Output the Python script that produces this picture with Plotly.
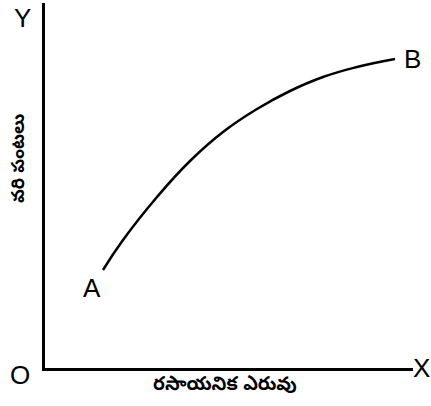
"""Recreates the fertilizer vs yield sketch: a concave curve from A to B between bare axes."""

import plotly.graph_objects as go

# ----- Data (axis units = pixels from origin O) -----
CURVE_X = [58, 78, 112, 145, 178, 212, 245, 278, 312, 350]
CURVE_Y = [98, 128, 171, 207, 236, 259, 277, 291, 301, 309]

X_LABEL = "రసాయనిక ఎరువు"
Y_LABEL = "వరి పంటలు"

FONT = "Liberation Sans, Arial, sans-serif"
TELUGU_FONT = "Noto Sans Telugu, Noto Sans, sans-serif"

fig = go.Figure(go.Scatter(
    x=CURVE_X, y=CURVE_Y, mode="lines",
    line=dict(color="black", width=2.5, shape="spline", smoothing=1.3),
    hoverinfo="skip",
))

# Axis letters sit outside the plot area -> paper coordinates
for txt, px, py in [("Y", -0.062, 0.96), ("O", -0.068, -0.02), ("X", 1.024, 0.0)]:
    fig.add_annotation(x=px, y=py, xref="paper", yref="paper", text=txt, showarrow=False,
                       xanchor="center", yanchor="middle",
                       font=dict(family=FONT, size=26, color="black"))

# Curve end letters
fig.add_annotation(x=CURVE_X[0] - 11, y=CURVE_Y[0] - 18, text="A", showarrow=False,
                   xanchor="center", yanchor="middle",
                   font=dict(family=FONT, size=26, color="black"))
fig.add_annotation(x=CURVE_X[-1] + 17, y=CURVE_Y[-1], text="B", showarrow=False,
                   xanchor="center", yanchor="middle",
                   font=dict(family=FONT, size=26, color="black"))

fig.add_annotation(x=0.489, y=-0.05, xref="paper", yref="paper",
                   xanchor="center", yanchor="middle",
                   text=f"<b>{X_LABEL}</b>", showarrow=False,
                   font=dict(family=TELUGU_FONT, size=19, color="black"))
fig.add_annotation(x=-0.068, y=0.575, xref="paper", yref="paper",
                   xanchor="center", yanchor="middle",
                   text=f"<b>{Y_LABEL}</b>", showarrow=False, textangle=-90,
                   font=dict(family=TELUGU_FONT, size=18, color="black"))

axis = dict(showline=True, linecolor="black", linewidth=2.5, showgrid=False,
            zeroline=False, showticklabels=False, ticks="", mirror=False)
fig.update_xaxes(range=[0, 368], **axis)
fig.update_yaxes(range=[0, 365], **axis)

fig.update_layout(
    width=431, height=406,
    margin=dict(l=45, r=18, t=3, b=38),
    paper_bgcolor="white", plot_bgcolor="white",
    showlegend=False,
)

# page body has a default 8px margin; drop it so the figure fills the window
fig.write_html("out.html", config={"displayModeBar": False},
               post_script="document.body.style.margin='0';")
